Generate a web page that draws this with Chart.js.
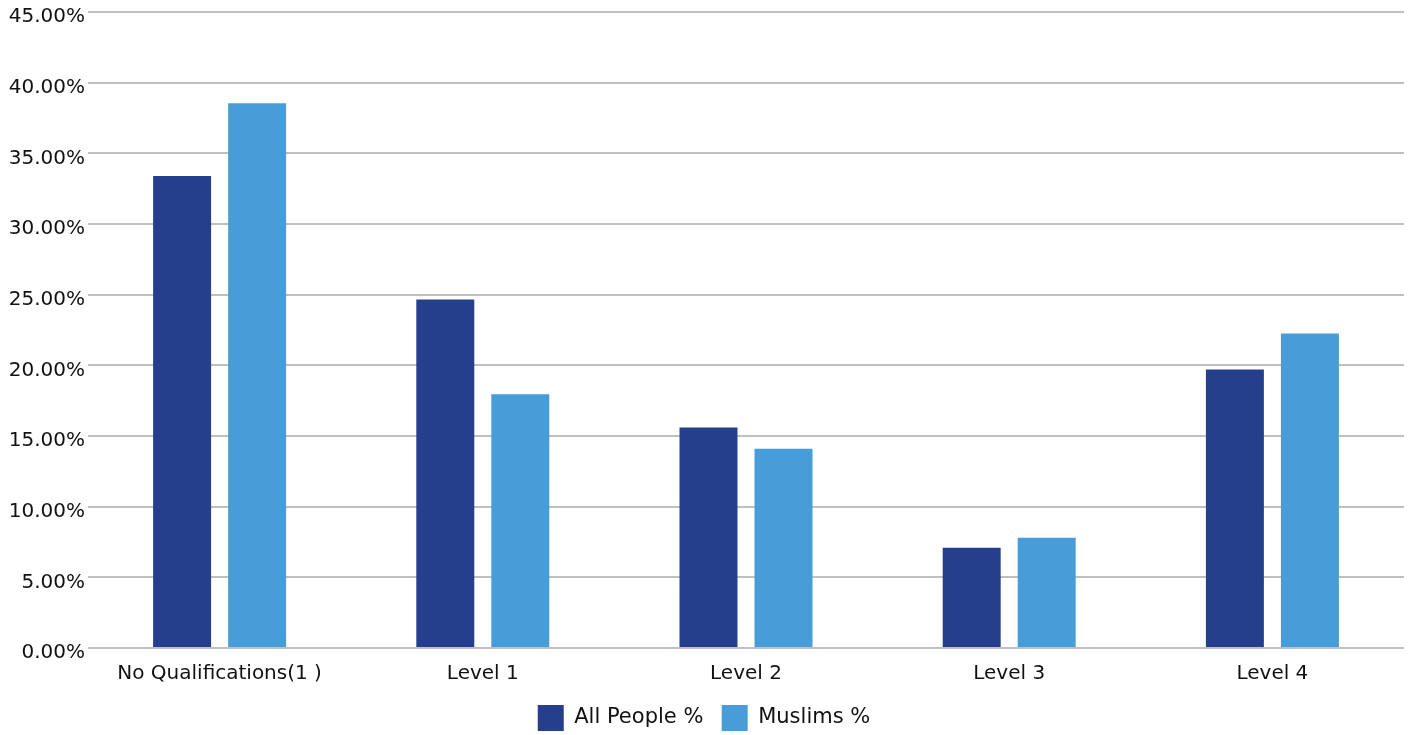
<!DOCTYPE html>
<html>
<head>
<meta charset="utf-8">
<script src="https://cdn.jsdelivr.net/npm/chart.js@4/dist/chart.umd.min.js"></script>
<style>
  html, body { margin: 0; padding: 0; background: #fff; }
  #wrap { width: 1413px; height: 735px; position: relative; }
</style>
</head>
<body>
<div id="wrap"><canvas id="graphique"></canvas></div>
<script>
// Catégories et séries (pourcentages)
const categories = ["No Qualifications(1 )", "Level 1", "Level 2", "Level 3", "Level 4"];
const allPeople = [33.4, 24.65, 15.6, 7.1, 19.7];
const muslims = [38.55, 17.95, 14.1, 7.8, 22.25];
const seriesLabels = ["All People %", "Muslims %"];

const police = "'DejaVu Sans', sans-serif";

const data = {
  labels: categories,
  datasets: [
    {
      label: seriesLabels[0],
      data: allPeople,
      backgroundColor: "#263F8C"
    },
    {
      label: seriesLabels[1],
      data: muslims,
      backgroundColor: "#479DD7"
    }
  ]
};

// Légende par défaut, avec un peu d'espace après chaque entrée sauf la dernière
function genererLabels(chart) {
  const items = Chart.defaults.plugins.legend.labels.generateLabels(chart);
  for (let i = 0; i < items.length - 1; i++) {
    items[i].text += "  ";
  }
  return items;
}

const config = {
  type: "bar",
  data: data,
  options: {
    responsive: true,
    maintainAspectRatio: false,
    animation: false,
    categoryPercentage: 0.57,
    barPercentage: 0.773,
    // marge basse négative : la légende colle au bas du canvas
    layout: { padding: { left: 4, right: 9, top: 12, bottom: -6 } },
    plugins: {
      tooltip: { enabled: false },
      legend: {
        position: "bottom",
        labels: {
          boxWidth: 26,
          boxHeight: 26,
          padding: 5,
          color: "#111",
          font: { family: police, size: 21 },
          generateLabels: genererLabels
        }
      }
    },
    scales: {
      y: {
        min: 0,
        max: 45,
        ticks: {
          stepSize: 5,
          padding: 3,
          labelOffset: 5,
          color: "#111",
          font: { family: police, size: 20 },
          callback: (v) => v.toFixed(2) + "%"
        },
        grid: { color: "#BFBFBF", lineWidth: 2, drawTicks: false },
        border: { display: false },
        afterFit: (scale) => {
          scale.width = 84;
          scale.paddingTop = 0;
        }
      },
      x: {
        ticks: {
          padding: 12,
          color: "#111",
          font: { family: police, size: 20, lineHeight: 1.4 }
        },
        grid: { display: false, drawTicks: false },
        border: { display: false }
      }
    }
  }
};

new Chart(document.querySelector("#graphique"), config);
</script>
</body>
</html>
